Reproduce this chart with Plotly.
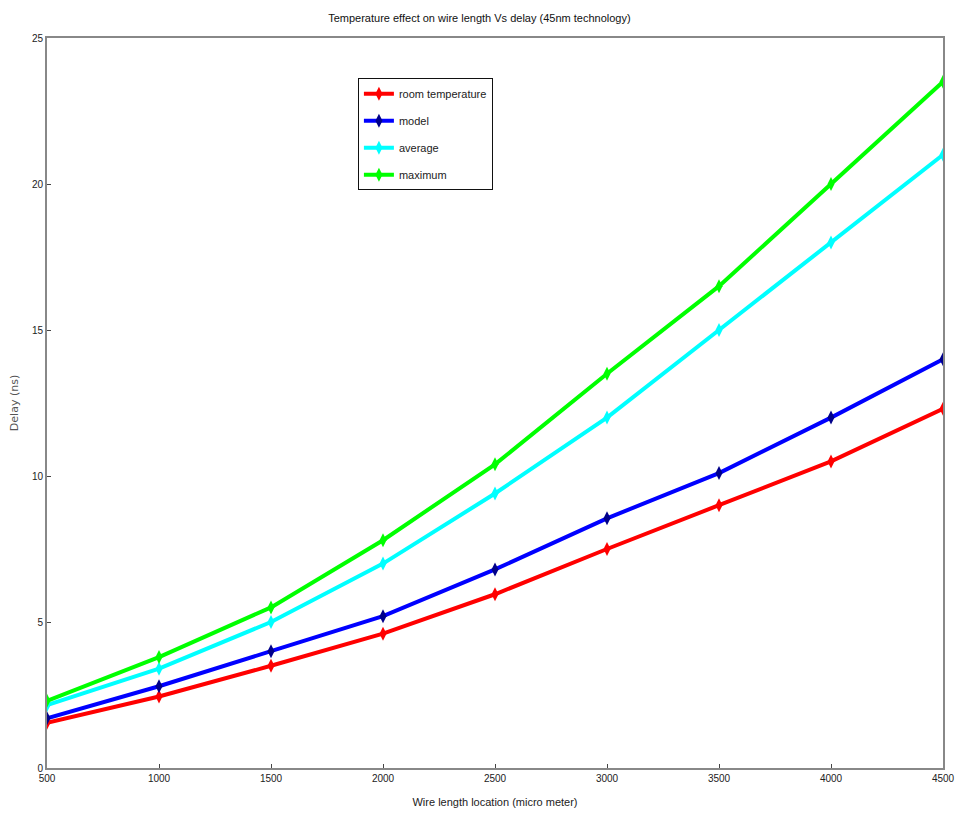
import plotly.graph_objects as go

wire_length = [500, 1000, 1500, 2000, 2500, 3000, 3500, 4000, 4500]
room_temperature = [1.55, 2.45, 3.5, 4.6, 5.95, 7.5, 9.0, 10.5, 12.3]
model = [1.7, 2.8, 4.0, 5.2, 6.8, 8.55, 10.1, 12.0, 14.0]
average = [2.15, 3.4, 5.0, 7.0, 9.4, 12.0, 15.0, 18.0, 21.0]
maximum = [2.3, 3.8, 5.5, 7.8, 10.4, 13.5, 16.5, 20.0, 23.5]

x_ticks = [500, 1000, 1500, 2000, 2500, 3000, 3500, 4000, 4500]
y_ticks = [0, 5, 10, 15, 20, 25]

series = [
    ("room temperature", room_temperature, "#ff0000", "#ff0000"),
    ("model", model, "#0000ff", "#00008b"),
    ("average", average, "#00ffff", "#00ffff"),
    ("maximum", maximum, "#00ff00", "#00ff00"),
]

FONT = "Liberation Sans Narrow, Arial Narrow, Liberation Sans, sans-serif"

fig = go.Figure()
for name, vals, color, mcolor in series:
    fig.add_trace(go.Scatter(
        x=wire_length, y=vals, name=name, mode="lines+markers",
        legendgroup=name,
        line=dict(color=color, width=4),
        marker=dict(symbol="diamond-tall", size=10, color=mcolor,
                    line=dict(width=0)),
    ))

fig.update_layout(
    width=972, height=818,
    margin=dict(l=39, r=37, t=30, b=58),
    paper_bgcolor="white", plot_bgcolor="white",
    font=dict(family=FONT, size=10, color="#222"),
    title=dict(text="Temperature effect on wire length Vs delay (45nm technology)",
               x=0.485, xanchor="center", y=0.988, yanchor="middle",
               font=dict(family=FONT, size=11, color="#111")),
    showlegend=True,
    legend=dict(x=0.347, y=0.945, xanchor="left", yanchor="top",
                bordercolor="#111", borderwidth=1, bgcolor="white",
                font=dict(family=FONT, size=11, color="#222"),
                traceorder="grouped", tracegroupgap=8,
                itemwidth=30),
)
fig.update_xaxes(
    range=[500, 4500], tickvals=x_ticks, ticks="inside", ticklen=4,
    showline=True, linecolor="#888", linewidth=2, mirror=True,
    showgrid=False, zeroline=False, automargin=False,
    title=dict(text="Wire length location (micro meter)",
               font=dict(family=FONT, size=11)),
)
fig.update_yaxes(
    range=[0, 25], tickvals=y_ticks, ticks="inside", ticklen=4,
    showline=True, linecolor="#888", linewidth=2, mirror=True,
    showgrid=False, zeroline=False, automargin=False,
    title=dict(text="Delay (ns)",
               font=dict(family="DejaVu Sans, sans-serif", size=11, color="#555")),
)

fig.write_html("out.html")
